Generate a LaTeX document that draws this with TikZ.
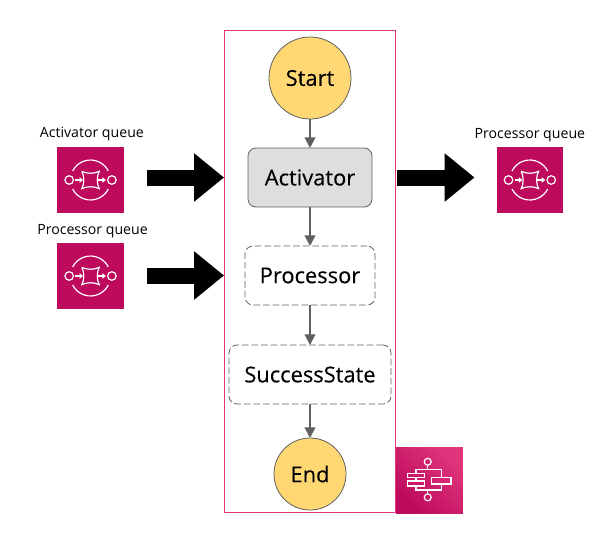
\documentclass[tikz,border=0pt]{standalone}
\usepackage{fontspec}
\setmainfont{Open Sans}
\newfontfamily\statefont{Open Sans}[FakeBold=0.25]
\usetikzlibrary{positioning,arrows.meta,shapes.geometric}
\definecolor{sqspink}{HTML}{BD0A5C}
\definecolor{framepink}{HTML}{E0357C}
\definecolor{stategold}{HTML}{FFD873}
\definecolor{flowgrey}{HTML}{5F5F5F}
\tikzset{
  every node/.append style={outer sep=0pt},
  terminal/.style={circle,draw=flowgrey,fill=stategold,line width=0.6pt,inner sep=0pt,font=\statefont\fontsize{16.4}{19}\selectfont},
  activestate/.style={rectangle,rounded corners=6pt,draw=flowgrey,fill=black!13,line width=0.6pt,minimum height=44.25pt,font=\statefont\fontsize{16.4}{19}\selectfont},
  laterstate/.style={rectangle,rounded corners=6pt,draw=flowgrey,dashed,dash pattern=on 5pt off 2.2pt,line width=0.6pt,minimum height=44.25pt,font=\statefont\fontsize{16.4}{19}\selectfont},
  machine/.style={rectangle,draw=framepink,line width=0.75pt,minimum width=128.25pt,minimum height=361.5pt},
  queueicon/.style={rectangle,fill=sqspink,minimum width=50pt,minimum height=49.5pt,inner sep=0pt},
  flowicon/.style={rectangle,left color=sqspink,right color=framepink,shading angle=135,minimum width=50pt,minimum height=49.5pt,inner sep=0pt},
  iconlabel/.style={font=\fontsize{10.6}{12}\selectfont,inner sep=0pt},
  flow/.style={draw=flowgrey,line width=1.5pt,-{Triangle[length=8pt,width=8pt]}},
  bigflow/.style={draw=black,line width=12pt,-{Triangle[length=22.5pt,width=35pt]}},
  glyph/.style={draw=white,line width=0.9pt},
  pics/queueglyph/.style={code={
    \draw[glyph] (-16pt,0) circle (3.2pt) (16pt,0) circle (3.2pt);
    \draw[glyph] (-13.4pt,6.8pt) arc[start angle=153,end angle=27,radius=15pt];
    \draw[glyph] (-13.4pt,-6.8pt) arc[start angle=207,end angle=333,radius=15pt];
    \draw[glyph,line join=miter] (-6.5pt,6.5pt) .. controls (-3pt,4.6pt) and (3pt,4.6pt) .. (6.5pt,6.5pt)
      .. controls (4.6pt,3pt) and (4.6pt,-3pt) .. (6.5pt,-6.5pt)
      .. controls (3pt,-4.6pt) and (-3pt,-4.6pt) .. (-6.5pt,-6.5pt)
      .. controls (-4.6pt,-3pt) and (-4.6pt,3pt) .. (-6.5pt,6.5pt);
    \draw[glyph,-{Triangle[length=2.6pt,width=4pt]}] (-11.5pt,0) -- (-5.6pt,0);
    \draw[glyph,-{Triangle[length=2.6pt,width=4pt]}] (5.6pt,0) -- (11.5pt,0);
  }},
  pics/flowglyph/.style={code={
    \draw[glyph] (-1.3pt,13.7pt) circle (2.6pt) (-1.3pt,-13pt) circle (2.6pt);
    \draw[glyph] (-16.3pt,5pt) rectangle (-3.9pt,1.7pt);
    \draw[glyph] (-16.3pt,-0.8pt) rectangle (-3.9pt,-4.5pt);
    \draw[glyph] (1.6pt,2pt) rectangle (16.1pt,-3pt);
    \draw[glyph] (-10.1pt,5pt) -- (-10.1pt,8pt) -- (9.2pt,8pt) -- (9.2pt,2pt);
    \draw[glyph] (-10.1pt,1.7pt) -- (-10.1pt,-0.8pt);
    \draw[glyph] (-10.1pt,-4.5pt) -- (-10.1pt,-7.5pt) -- (9.2pt,-7.5pt) -- (9.2pt,-3pt);
    \draw[glyph] (-1.3pt,8pt) -- (-1.3pt,11.1pt) (-1.3pt,-7.5pt) -- (-1.3pt,-10.4pt);
  }}
}
\begin{document}
\begin{tikzpicture}
  \useasboundingbox (0,0) rectangle (451.5pt,-399pt);

  \node[machine] (machine) at (232.4pt,-203.25pt) {};

  \node[terminal,minimum size=61.5pt] (start) at (232.5pt,-58.5pt) {Start};
  \node[activestate,minimum width=93pt] (activator) [below=21.75pt of start] {Activator};
  \node[laterstate,minimum width=97.5pt] (processor) [below=29.25pt of activator] {Processor};
  \node[laterstate,minimum width=121.5pt] (success) [below=30pt of processor] {SuccessState};
  \node[terminal,minimum size=54pt] (end) [below=25.5pt of success] {End};

  \path[flow] (start) -- (activator);
  \path[flow] (activator) -- (processor);
  \path[flow] (processor) -- (success);
  \path[flow] (success) -- (end);

  \node[queueicon] (activator_queue) at (67.9pt,-135pt) {};
    \pic at (activator_queue) {queueglyph};
    \node[iconlabel] (activator_queue_label) [above=4.5pt of activator_queue,xshift=1pt] {Activator queue};
  \node[queueicon] (processor_queue) [below=22.5pt of activator_queue] {};
    \pic at (processor_queue) {queueglyph};
    \node[iconlabel] (processor_queue_label) [above=4pt of processor_queue,xshift=1.5pt] {Processor queue};
  \node[queueicon] (output_queue) at (397.4pt,-135pt) {};
    \pic at (output_queue) {queueglyph};
    \node[iconlabel] (output_queue_label) [above=3.5pt of output_queue] {Processor queue};

  \node[flowicon] (flow_icon) at (322.1pt,-360pt) {};
    \pic at (flow_icon) {flowglyph};

  \path[bigflow,shorten <=17.25pt,shorten >=18pt] (activator_queue.east |- activator.west) -- (activator.west);
  \path[bigflow,shorten <=17.25pt,shorten >=15.75pt] (processor_queue.east |- processor.west) -- (processor.west);
  \path[bigflow,shorten <=18.75pt,shorten >=16.5pt] (activator.east) -- (output_queue.west |- activator.east);
\end{tikzpicture}
\end{document}
